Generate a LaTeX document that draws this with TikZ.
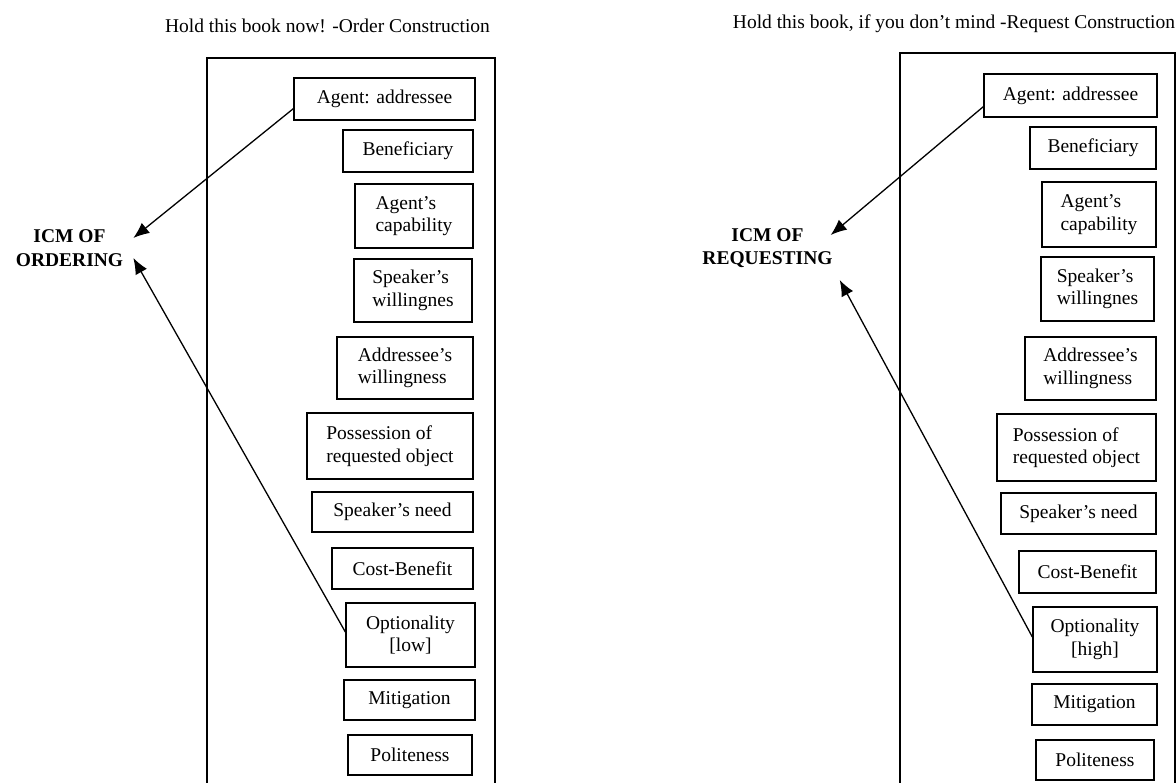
\documentclass[tikz,border=0pt]{standalone}
\usepackage{fontspec}
\setmainfont{Liberation Serif}
\usetikzlibrary{arrows.meta}
\begin{document}
\begin{tikzpicture}[x=1pt,y=-1pt,
  box/.style={draw, line width=1.3pt, inner sep=0pt, align=left, font=\fontsize{19.5}{22.5}\selectfont},
  cbox/.style={box, align=center},
  frame/.style={draw, line width=1.3pt},
  lbl/.style={font=\bfseries\fontsize{19.5}{23.5}\selectfont, align=center, inner sep=0pt},
  ttl/.style={font=\fontsize{19.5}{22}\selectfont, anchor=base, inner sep=0pt},
  arr/.style={line width=1.3pt, -{Latex[length=16pt,width=13pt]}}]
\useasboundingbox (0,0) rectangle (1176,783);
\clip (0,0) rectangle (1176,783);
% titles
\node[ttl] (t1) at (327.5,33) {Hold this book now! -Order Construction};
\node[ttl] (t2) at (954,29) {Hold this book, if you don’t mind -Request Construction};
% frames
\draw[frame] (207,58) rectangle (495,800);
\draw[frame] (900,53) rectangle (1175,800);
% left boxes
\node[box, minimum width=181pt, minimum height=42pt] (ag1) at (384.5,99) {Agent: addressee};
\node[box, minimum width=130pt, minimum height=42pt] (be1) at (408,151) {Beneficiary};
\node[box, minimum width=118pt, minimum height=64pt] (ca1) at (414,216) {Agent’s\\capability};
\node[box, minimum width=118pt, minimum height=63pt] (sw1) at (413,290.5) {Speaker’s\\willingnes};
\node[box, minimum width=136pt, minimum height=62pt] (aw1) at (405,368) {Addressee’s\\willingness};
\node[box, minimum width=166pt, minimum height=66pt] (po1) at (390,446) {Possession of\\requested object};
\node[box, minimum width=161pt, minimum height=40pt] (sn1) at (392.5,512) {Speaker’s need};
\node[box, minimum width=141pt, minimum height=41pt] (cb1) at (402.5,568.5) {Cost-Benefit};
\node[cbox, minimum width=129pt, minimum height=64pt] (op1) at (410.5,635) {Optionality\\{}[low]};
\node[box, minimum width=131pt, minimum height=40pt] (mi1) at (409.5,700) {Mitigation};
\node[box, minimum width=124pt, minimum height=40pt] (pl1) at (410,755) {Politeness};
% right boxes
\node[box, minimum width=173pt, minimum height=43pt] (ag2) at (1070.5,95.5) {Agent: addressee};
\node[box, minimum width=126pt, minimum height=42pt] (be2) at (1093,148) {Beneficiary};
\node[box, minimum width=114pt, minimum height=65pt] (ca2) at (1099,214.5) {Agent’s\\capability};
\node[box, minimum width=113pt, minimum height=64pt] (sw2) at (1097.5,289) {Speaker’s\\willingnes};
\node[box, minimum width=131pt, minimum height=63pt] (aw2) at (1090.5,368.5) {Addressee’s\\willingness};
\node[box, minimum width=159pt, minimum height=67pt] (po2) at (1076.5,447.5) {Possession of\\requested object};
\node[box, minimum width=155pt, minimum height=41pt] (sn2) at (1078.5,513.5) {Speaker’s need};
\node[box, minimum width=137pt, minimum height=42pt] (cb2) at (1087.5,572) {Cost-Benefit};
\node[cbox, minimum width=124pt, minimum height=65pt] (op2) at (1095,639.5) {Optionality\\{}[high]};
\node[box, minimum width=125pt, minimum height=41pt] (mi2) at (1094.5,704.5) {Mitigation};
\node[box, minimum width=118pt, minimum height=40pt] (pl2) at (1095,760) {Politeness};
% labels
\node[lbl] (ord) at (69.5,248) {ICM OF\\ORDERING};
\node[lbl] (req) at (767.5,248) {ICM OF\\REQUESTING};
% arrows
\draw[arr] ([yshift=12pt]ag1.south west) -- ([shift={(10pt,10pt)}]ord.east);
\draw[arr] ([yshift=3pt]op1.west) -- ([shift={(10pt,-10pt)}]ord.east);
\draw[arr] ([yshift=11pt]ag2.south west) -- ([shift={(-2pt,13pt)}]req.east);
\draw[arr] ([yshift=2.5pt]op2.west) -- ([shift={(7pt,-32pt)}]req.east);
\end{tikzpicture}
\end{document}
